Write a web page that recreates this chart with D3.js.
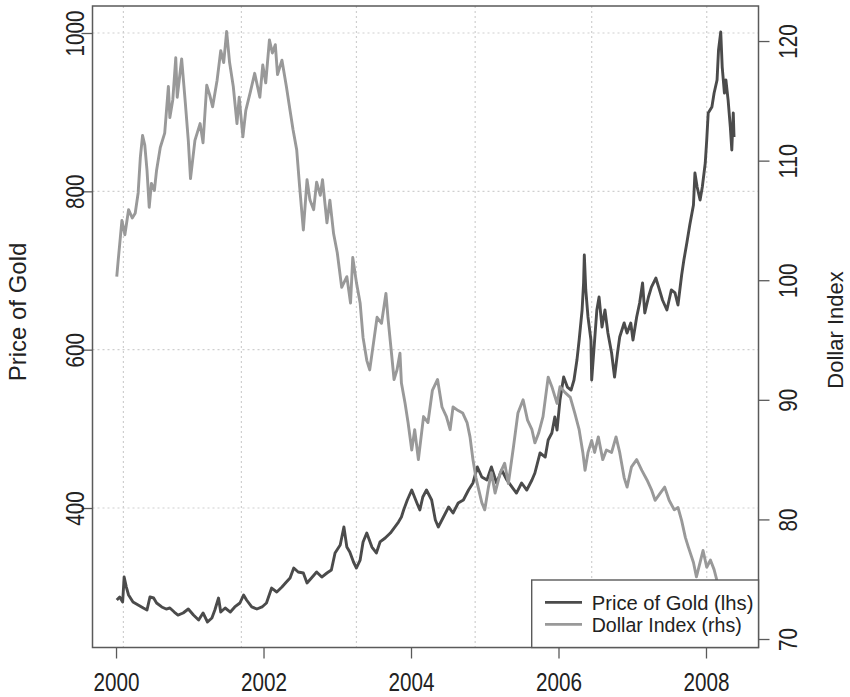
<!DOCTYPE html>
<html><head><meta charset="utf-8">
<script src="https://cdn.jsdelivr.net/npm/d3@7/dist/d3.min.js"></script>
<style>
body{margin:0;background:#fff}
text{font-family:"Liberation Sans",Arial,Helvetica,sans-serif;fill:#222}
</style>
</head><body>
<svg id="chart" width="850" height="697"></svg>
<script>
// ---- data (decimal year, value) ----
const goldSeries = [
[2000.01,283.8],[2000.05,287.6],[2000.09,281.3],[2000.11,312.8],[2000.14,300.2],[2000.17,290.1],[2000.23,281.3],[2000.30,277.5],[2000.37,273.7],[2000.42,271.2],
[2000.46,287.6],[2000.51,286.3],[2000.55,280.0],[2000.62,275.0],[2000.68,272.4],[2000.73,273.7],[2000.79,268.6],[2000.84,264.8],[2000.91,267.4],[2000.98,272.4],
[2001.05,264.8],[2001.12,258.5],[2001.18,267.4],[2001.24,256.0],[2001.30,261.1],[2001.34,271.2],[2001.39,286.3],[2001.42,268.6],[2001.48,273.7],[2001.55,268.6],
[2001.61,275.0],[2001.68,280.0],[2001.73,290.1],[2001.77,283.8],[2001.84,275.0],[2001.91,272.4],[2001.98,275.0],[2002.04,280.0],[2002.11,298.9],[2002.18,293.9],
[2002.25,300.2],[2002.31,306.5],[2002.36,311.6],[2002.41,324.2],[2002.47,319.2],[2002.54,317.9],[2002.59,305.3],[2002.65,311.6],[2002.72,319.2],[2002.79,312.8],
[2002.86,317.9],[2002.92,321.7],[2002.97,343.2],[2003.04,353.3],[2003.09,376.0],[2003.13,350.7],[2003.17,344.4],[2003.22,331.8],[2003.26,324.2],[2003.31,334.3],
[2003.35,357.1],[2003.40,368.4],[2003.47,350.7],[2003.53,343.2],[2003.58,357.1],[2003.65,362.1],[2003.72,368.4],[2003.77,374.7],[2003.83,382.3],[2003.87,388.6],
[2003.90,397.5],[2003.95,410.1],[2004.01,422.7],[2004.08,406.3],[2004.12,397.5],[2004.16,413.9],[2004.21,422.7],[2004.28,410.1],[2004.33,384.8],[2004.37,376.0],
[2004.44,388.6],[2004.51,401.3],[2004.57,393.7],[2004.64,406.3],[2004.71,410.1],[2004.78,422.7],[2004.84,431.6],[2004.90,451.8],[2004.96,439.2],[2005.03,435.4],
[2005.09,451.8],[2005.16,431.6],[2005.23,448.0],[2005.30,435.4],[2005.37,426.5],[2005.43,418.9],[2005.50,431.6],[2005.57,422.7],[2005.64,435.4],[2005.68,444.2],
[2005.75,469.5],[2005.82,464.4],[2005.86,485.9],[2005.91,494.7],[2005.95,514.9],[2005.98,498.5],[2006.02,536.4],[2006.07,565.5],[2006.12,552.8],[2006.17,549.0],
[2006.21,561.7],[2006.25,586.9],[2006.28,612.2],[2006.32,650.1],[2006.34,684.2],[2006.35,719.6],[2006.37,675.4],[2006.40,641.3],[2006.44,612.2],[2006.45,561.7],
[2006.48,599.6],[2006.52,650.1],[2006.55,666.5],[2006.59,628.6],[2006.63,650.1],[2006.67,621.0],[2006.72,595.8],[2006.76,565.5],[2006.80,595.8],[2006.83,616.0],
[2006.89,633.7],[2006.93,621.0],[2006.98,633.7],[2007.01,612.2],[2007.06,641.3],[2007.10,658.9],[2007.14,684.2],[2007.17,646.3],[2007.22,666.5],[2007.26,679.1],
[2007.32,690.5],[2007.37,675.4],[2007.41,662.7],[2007.47,650.1],[2007.53,675.4],[2007.58,671.6],[2007.62,656.4],[2007.67,694.3],[2007.70,713.2],[2007.74,734.7],
[2007.78,757.5],[2007.83,782.7],[2007.85,823.1],[2007.88,805.5],[2007.92,789.0],[2007.95,805.5],[2007.99,835.8],[2008.01,864.8],[2008.03,898.9],[2008.08,906.5],
[2008.11,924.2],[2008.15,940.6],[2008.17,978.5],[2008.20,1001.2],[2008.22,957.0],[2008.25,924.2],[2008.27,940.6],[2008.30,915.3],[2008.33,881.2],[2008.35,852.2],
[2008.37,898.9],[2008.38,868.6]
];
const dollarSeries = [
[2000.01,100.3],[2000.03,101.7],[2000.08,105.0],[2000.12,103.8],[2000.17,105.9],[2000.22,105.2],[2000.26,105.6],[2000.30,107.3],[2000.33,110.3],[2000.36,112.1],
[2000.39,111.3],[2000.42,109.2],[2000.45,106.1],[2000.48,108.1],[2000.52,107.5],[2000.55,109.2],[2000.60,111.1],[2000.66,112.3],[2000.71,116.2],[2000.73,113.6],
[2000.77,115.1],[2000.81,118.6],[2000.83,115.3],[2000.89,118.5],[2000.94,114.8],[2000.98,111.7],[2001.01,108.5],[2001.07,111.7],[2001.14,113.1],[2001.18,111.5],
[2001.23,116.3],[2001.27,115.5],[2001.31,114.5],[2001.37,116.7],[2001.42,119.2],[2001.46,118.2],[2001.50,120.8],[2001.54,118.2],[2001.59,116.2],[2001.64,113.1],
[2001.67,115.3],[2001.72,112.0],[2001.76,114.2],[2001.82,115.7],[2001.88,117.3],[2001.95,115.3],[2001.99,118.0],[2002.03,116.5],[2002.08,120.1],[2002.12,119.0],
[2002.16,119.7],[2002.19,117.2],[2002.25,118.4],[2002.31,116.2],[2002.36,114.2],[2002.40,112.6],[2002.45,110.9],[2002.49,107.8],[2002.54,104.2],[2002.59,108.4],
[2002.63,106.7],[2002.68,105.9],[2002.72,108.2],[2002.77,107.1],[2002.80,108.4],[2002.86,104.8],[2002.90,106.7],[2002.95,103.9],[2003.00,102.3],[2003.06,99.4],
[2003.13,100.3],[2003.18,98.1],[2003.21,101.9],[2003.26,99.8],[2003.31,98.1],[2003.35,95.2],[2003.40,93.3],[2003.44,92.5],[2003.49,94.7],[2003.54,96.9],
[2003.60,96.4],[2003.66,98.9],[2003.69,96.7],[2003.74,93.6],[2003.77,91.7],[2003.81,92.5],[2003.85,93.9],[2003.87,91.4],[2003.92,89.7],[2003.96,88.1],
[2004.01,85.8],[2004.05,87.5],[2004.10,85.0],[2004.17,88.6],[2004.23,88.1],[2004.29,90.8],[2004.36,91.7],[2004.42,89.4],[2004.48,88.6],[2004.53,87.5],
[2004.57,89.4],[2004.64,89.1],[2004.70,88.9],[2004.76,88.1],[2004.80,86.9],[2004.84,85.0],[2004.88,83.5],[2004.91,82.7],[2004.96,81.4],[2005.00,80.8],
[2005.05,82.7],[2005.09,83.9],[2005.14,82.2],[2005.21,83.9],[2005.27,84.7],[2005.32,83.0],[2005.39,86.1],[2005.45,88.9],[2005.52,90.0],[2005.58,88.3],
[2005.64,87.5],[2005.68,86.4],[2005.73,87.2],[2005.79,88.6],[2005.86,91.9],[2005.91,91.1],[2005.98,89.7],[2006.02,91.1],[2006.09,90.6],[2006.16,90.2],
[2006.22,88.9],[2006.28,87.5],[2006.33,85.6],[2006.36,84.1],[2006.40,85.6],[2006.45,86.6],[2006.49,85.6],[2006.54,86.9],[2006.60,85.0],[2006.65,85.8],
[2006.72,85.6],[2006.78,86.9],[2006.83,85.6],[2006.89,83.5],[2006.93,82.7],[2006.99,84.4],[2007.06,85.0],[2007.13,84.1],[2007.20,83.3],[2007.26,82.5],
[2007.31,81.6],[2007.38,82.2],[2007.44,82.7],[2007.50,81.6],[2007.57,80.8],[2007.62,81.0],[2007.67,79.9],[2007.72,78.5],[2007.76,77.7],[2007.83,76.4],
[2007.87,75.2],[2007.92,76.4],[2007.96,77.4],[2008.01,76.0],[2008.06,76.6],[2008.11,75.8],[2008.14,75.1],[2008.19,73.3],[2008.24,72.0],[2008.30,71.2],
[2008.38,71.8]
];
const yearTicks   = [2000, 2002, 2004, 2006, 2008];
const goldTicks   = [400, 600, 800, 1000];
const dollarTicks = [70, 80, 90, 100, 110, 120];
const gridYears   = [2000.10, 2001.70, 2003.26, 2004.87, 2006.45, 2008.01];
const seriesNames = ["Price of Gold (lhs)", "Dollar Index (rhs)"];
const axisTitles  = ["Price of Gold", "Dollar Index"];

// ---- layout ----
const L = 92.5, R = 758.5, T = 6, B = 647.5;
const svg = d3.select("#chart");
const x  = d3.scaleLinear().domain([1999.681, 2008.712]).range([L, R]);
const yL = d3.scaleLinear().domain([223.8, 1034.1]).range([B, T]);
const yR = d3.scaleLinear().domain([69.29, 122.93]).range([B, T]);
const colGold = "#4b4b4b", colDollar = "#999999", axisCol = "#5a5a5a";

svg.append("defs").append("clipPath").attr("id","clip")
  .append("rect").attr("x",L).attr("y",T).attr("width",R-L).attr("height",B-T);

// grid
const grid = svg.append("g").attr("stroke","#cfcfcf").attr("stroke-width",1.2).attr("stroke-dasharray","2,3");
grid.selectAll("line.h").data(goldTicks).join("line").attr("class","h")
  .attr("x1",L).attr("x2",R).attr("y1",d=>yL(d)).attr("y2",d=>yL(d));
grid.selectAll("line.v").data(gridYears).join("line").attr("class","v")
  .attr("x1",d=>x(d)).attr("x2",d=>x(d)).attr("y1",T).attr("y2",B);

// lines
const plot = svg.append("g").attr("clip-path","url(#clip)");
plot.append("path").datum(goldSeries)
  .attr("fill","none").attr("stroke",colGold).attr("stroke-width",2.9).attr("stroke-linejoin","round")
  .attr("d", d3.line().x(d=>x(d[0])).y(d=>yL(d[1])));
plot.append("path").datum(dollarSeries)
  .attr("fill","none").attr("stroke",colDollar).attr("stroke-width",2.9).attr("stroke-linejoin","round")
  .attr("d", d3.line().x(d=>x(d[0])).y(d=>yR(d[1])));

// axes
function styleAxis(g){
  g.select(".domain").remove();
  g.selectAll(".tick line").attr("stroke",axisCol).attr("stroke-width",1.3);
  g.selectAll(".tick text").attr("fill","#222").style("font-size","25px")
   .attr("lengthAdjust","spacingAndGlyphs")
   .attr("textLength", function(){ return this.textContent.length * 11.5; });
}
const gx = svg.append("g").attr("transform",`translate(0,${B})`)
  .call(d3.axisBottom(x).tickValues(yearTicks).tickFormat(d3.format("d")).tickSize(11));
styleAxis(gx);
gx.selectAll(".tick text").attr("y",43).attr("dy",0);

const gl = svg.append("g").attr("transform",`translate(${L},0)`)
  .call(d3.axisLeft(yL).tickValues(goldTicks).tickFormat(d3.format("d")).tickSize(11));
styleAxis(gl);
gl.selectAll(".tick text").attr("x",0).attr("y",0).attr("dy",0).attr("text-anchor","middle")
  .attr("transform","translate(-8.5,0) rotate(-90)");

const gr = svg.append("g").attr("transform",`translate(${R},0)`)
  .call(d3.axisRight(yR).tickValues(dollarTicks).tickFormat(d3.format("d")).tickSize(11));
styleAxis(gr);
gr.selectAll(".tick text").attr("x",0).attr("y",0).attr("dy",0).attr("text-anchor","middle")
  .attr("transform","translate(38.5,0) rotate(-90)");

// axis titles
svg.append("text").attr("transform",`translate(26,312) rotate(-90)`).attr("text-anchor","middle")
  .style("font-size","24px").text(axisTitles[0]);
svg.append("text").attr("transform",`translate(843,330) rotate(-90)`).attr("text-anchor","middle")
  .style("font-size","22px").text(axisTitles[1]);

// box
svg.append("rect").attr("x",L).attr("y",T).attr("width",R-L).attr("height",B-T)
  .attr("fill","none").attr("stroke",axisCol).attr("stroke-width",1.5);

// legend
const lg = svg.append("g");
lg.append("rect").attr("x",531.7).attr("y",580).attr("width",R-531.7).attr("height",B-580)
  .attr("fill","#fff").attr("stroke",axisCol).attr("stroke-width",1.4);
const legCols = [colGold, colDollar], legY = [602.3, 624.3], legW = [161.7, 150];
seriesNames.forEach((nm,i)=>{
  lg.append("line").attr("x1",545).attr("x2",582).attr("y1",legY[i]).attr("y2",legY[i])
    .attr("stroke",legCols[i]).attr("stroke-width",2.8);
  lg.append("text").attr("x",591.7).attr("y",legY[i]+7.2).style("font-size","20.5px")
    .attr("textLength",legW[i]).attr("lengthAdjust","spacingAndGlyphs").text(nm);
});
</script>
</body></html>
